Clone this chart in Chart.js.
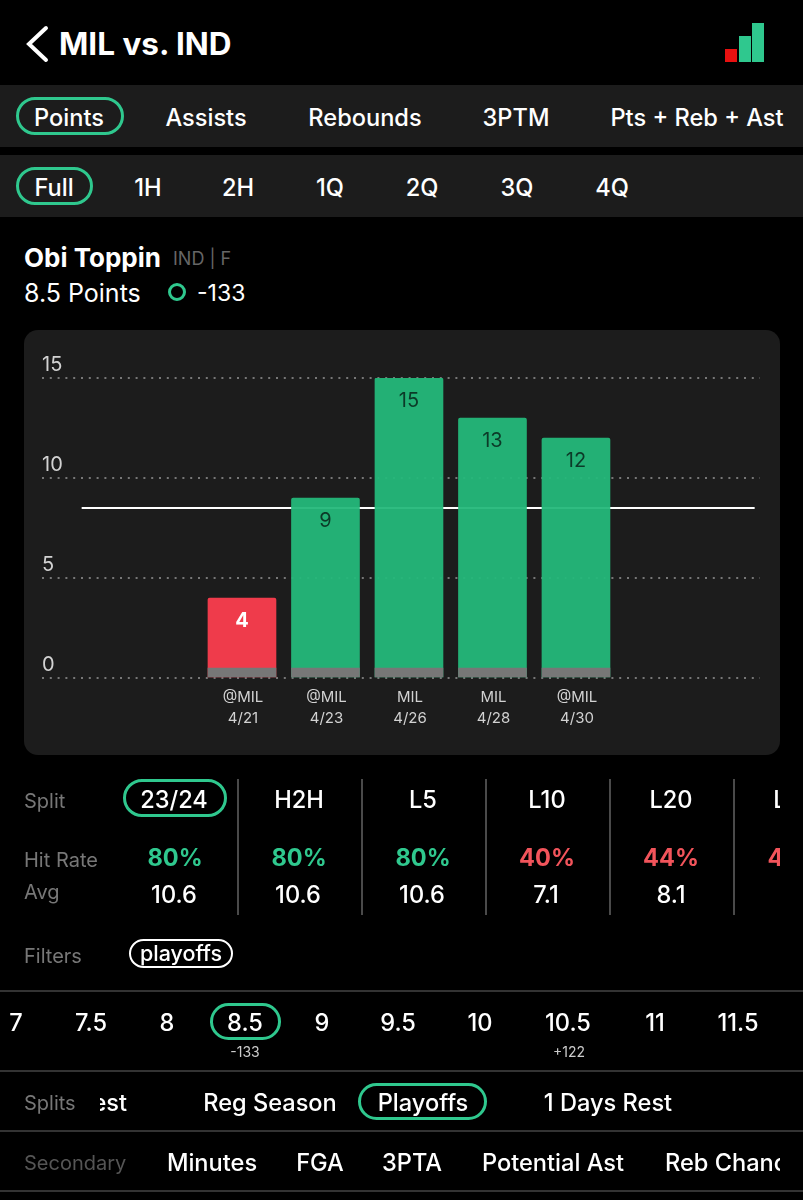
<!DOCTYPE html>
<html>
<head>
<meta charset="utf-8">
<script src="https://cdn.jsdelivr.net/npm/chart.js@4/dist/chart.umd.min.js"></script>
<style>
  html, body { margin: 0; padding: 0; background: #000; }
  body { position: relative; width: 803px; height: 1200px; overflow: hidden; color: #fff; font-family: Inter, "Noto Sans", sans-serif; }
  .t { position: absolute; white-space: nowrap; transform: translateY(calc(-50% + 1px)); line-height: 1; }
  .c { transform: translate(-50%, calc(-50% + 1px)); }
  .band { position: absolute; left: 0; width: 803px; background: #1c1c1c; }
  .pill { position: absolute; box-sizing: border-box; border: 3px solid #2fc88e; border-radius: 20px; }
  .rule { position: absolute; left: 0; width: 803px; height: 2px; background: #333; }
  .div { position: absolute; top: 779px; width: 2px; height: 136px; background: #4a4a4a; }
  .grey { color: #777; font-size: 20px; }
  .m { font-size: 23.6px; font-weight: 500; }
  #card { position: absolute; left: 24px; top: 330px; width: 756px; height: 425px; background: #1c1c1c; border-radius: 14px; }
  #clip { position: absolute; left: 0; top: 0; width: 780px; height: 1200px; overflow: hidden; }
</style>
</head>
<body>
<svg style="position:absolute;left:0;top:0" width="60" height="80">
  <polyline points="46,28 29,44 46,60" fill="none" stroke="#fff" stroke-width="4" stroke-linecap="round"/>
</svg>
<div class="t" style="left:59px;top:43px;font-size:31.5px;font-weight:700">MIL vs. IND</div>
<div style="position:absolute;left:725px;top:49px;width:12px;height:13px;background:#e81010"></div>
<div style="position:absolute;left:739px;top:36px;width:12px;height:26px;background:#2fc88e"></div>
<div style="position:absolute;left:752px;top:23px;width:12px;height:39px;background:#2fc88e"></div>

<div class="band" style="top:85px;height:62px"></div>
<div class="band" style="top:155px;height:62px"></div>
<div class="pill" style="left:16px;top:97px;width:108px;height:38px"></div>
<div class="pill" style="left:16px;top:167px;width:77px;height:38px"></div>
<div class="t c m" style="left:69px;top:117px">Points</div>
<div class="t c m" style="left:206px;top:117px">Assists</div>
<div class="t c m" style="left:365px;top:117px">Rebounds</div>
<div class="t c m" style="left:516px;top:117px">3PTM</div>
<div class="t c m" style="left:697px;top:117px">Pts + Reb + Ast</div>
<div class="t c m" style="left:54px;top:187px">Full</div>
<div class="t c m" style="left:148px;top:187px">1H</div>
<div class="t c m" style="left:238px;top:187px">2H</div>
<div class="t c m" style="left:330px;top:187px">1Q</div>
<div class="t c m" style="left:422px;top:187px">2Q</div>
<div class="t c m" style="left:517px;top:187px">3Q</div>
<div class="t c m" style="left:612px;top:187px">4Q</div>

<div class="t" style="left:24px;top:257px;font-size:26px;font-weight:700">Obi Toppin</div>
<div class="t" style="left:173px;top:258px;font-size:18px;color:#666">IND | F</div>
<div class="t" style="left:24px;top:292px;font-size:25px">8.5 Points</div>
<div style="position:absolute;left:168px;top:283px;width:18px;height:18px;box-sizing:border-box;border:3px solid #2fc88e;border-radius:50%"></div>
<div class="t" style="left:197px;top:292px;font-size:23px">-133</div>

<div id="card"></div>
<canvas id="chart" width="756" height="425" style="position:absolute;left:24px;top:330px"></canvas>

<div id="clip">
  <div class="t grey" style="left:24px;top:800px">Split</div>
  <div class="pill" style="left:123px;top:779px;width:104px;height:38px"></div>
  <div class="t c m" style="left:174px;top:799px">23/24</div>
  <div class="t c m" style="left:299px;top:799px">H2H</div>
  <div class="t c m" style="left:423px;top:799px">L5</div>
  <div class="t c m" style="left:547px;top:799px">L10</div>
  <div class="t c m" style="left:671px;top:799px">L20</div>
  <div class="t c m" style="left:795px;top:799px">L30</div>
  <div class="div" style="left:237px"></div>
  <div class="div" style="left:361px"></div>
  <div class="div" style="left:485px"></div>
  <div class="div" style="left:609px"></div>
  <div class="div" style="left:733px"></div>
  <div class="t grey" style="left:24px;top:859px">Hit Rate</div>
  <div class="t grey" style="left:24px;top:891px">Avg</div>
  <div class="t c m" style="left:175px;top:857px;font-weight:700;color:#2fc88e">80%</div>
  <div class="t c m" style="left:299px;top:857px;font-weight:700;color:#2fc88e">80%</div>
  <div class="t c m" style="left:423px;top:857px;font-weight:700;color:#2fc88e">80%</div>
  <div class="t c m" style="left:547px;top:857px;font-weight:700;color:#f2545b">40%</div>
  <div class="t c m" style="left:671px;top:857px;font-weight:700;color:#f2545b">44%</div>
  <div class="t c m" style="left:795px;top:857px;font-weight:700;color:#f2545b">45%</div>
  <div class="t c m" style="left:174px;top:894px">10.6</div>
  <div class="t c m" style="left:298px;top:894px">10.6</div>
  <div class="t c m" style="left:422px;top:894px">10.6</div>
  <div class="t c m" style="left:546px;top:894px">7.1</div>
  <div class="t c m" style="left:671px;top:894px">8.1</div>
  <div class="t grey" style="left:24px;top:955px">Filters</div>
  <div class="pill" style="left:129px;top:939px;width:104px;height:29px;border-color:#fff;border-width:2px"></div>
  <div class="t c" style="left:181px;top:953px;font-size:21.5px;font-weight:500">playoffs</div>
</div>

<div class="rule" style="top:990px"></div>
<div class="t c m" style="left:16px;top:1022px">7</div>
<div class="t c m" style="left:91px;top:1022px">7.5</div>
<div class="t c m" style="left:167px;top:1022px">8</div>
<div class="pill" style="left:210px;top:1003px;width:71px;height:37px"></div>
<div class="t c m" style="left:245px;top:1022px">8.5</div>
<div class="t c m" style="left:322px;top:1022px">9</div>
<div class="t c m" style="left:398px;top:1022px">9.5</div>
<div class="t c m" style="left:480px;top:1022px">10</div>
<div class="t c m" style="left:568px;top:1022px">10.5</div>
<div class="t c m" style="left:655px;top:1022px">11</div>
<div class="t c m" style="left:738px;top:1022px">11.5</div>
<div class="t c" style="left:245px;top:1051px;font-size:14px;color:#ccc">-133</div>
<div class="t c" style="left:569px;top:1051px;font-size:14px;color:#ccc">+122</div>
<div class="rule" style="top:1070px"></div>

<div class="t grey" style="left:24px;top:1102px">Splits</div>
<div style="position:absolute;left:100px;top:1085px;width:30px;height:34px;overflow:hidden">
  <div class="t m" style="right:3px;top:17px">Rest</div>
</div>
<div class="t c m" style="left:270px;top:1102px">Reg Season</div>
<div class="pill" style="left:358px;top:1083px;width:129px;height:37px"></div>
<div class="t c m" style="left:423px;top:1102px">Playoffs</div>
<div class="t c m" style="left:608px;top:1102px">1 Days Rest</div>
<div class="rule" style="top:1130px"></div>

<div class="t" style="left:24px;top:1162px;font-size:20px;color:#555">Secondary</div>
<div class="t c m" style="left:212px;top:1162px">Minutes</div>
<div class="t c m" style="left:320px;top:1162px">FGA</div>
<div class="t c m" style="left:412px;top:1162px">3PTA</div>
<div class="t c m" style="left:553px;top:1162px">Potential Ast</div>
<div style="position:absolute;left:660px;top:1145px;width:120px;height:34px;overflow:hidden">
  <div class="t m" style="left:5px;top:17px">Reb Chances</div>
</div>
<div class="rule" style="top:1190px"></div>

<script>
const opponents = ["@MIL", "@MIL", "MIL", "MIL", "@MIL"];
const dates = ["4/21", "4/23", "4/26", "4/28", "4/30"];
const points = [4, 9, 15, 13, 12];
const minutesBase = [0.5, 0.5, 0.5, 0.5, 0.5];
const yTicks = [0, 5, 10, 15];
const propLine = 8.5;
// game slots are numbered from the first bar, the line runs a bit past both sides
const lineSlots = [-1.92, 6.14];
const xRange = [-2.395, 6.204];

const green = "rgba(36, 184, 122, 0.95)";
const red = "rgba(244, 60, 76, 0.98)";

const barLabels = {
  id: "barLabels",
  afterDatasetsDraw(chart) {
    const ctx = chart.ctx;
    chart.getDatasetMeta(1).data.forEach((bar, i) => {
      const miss = points[i] < propLine;
      ctx.save();
      ctx.font = (miss ? "700 " : "400 ") + "20px Inter";
      ctx.fillStyle = miss ? "#fff" : "#0c3a28";
      ctx.textAlign = "center";
      ctx.textBaseline = "middle";
      ctx.fillText(points[i], bar.x, bar.y + 23);
      ctx.restore();
    });
  },
};

new Chart(document.getElementById("chart"), {
  data: {
    datasets: [
      {
        type: "bar",
        data: minutesBase.map((v, i) => ({ x: i, y: v })),
        backgroundColor: "#777",
        barThickness: 68,
        grouped: false,
        order: 1,
      },
      {
        type: "bar",
        data: points.map((v, i) => ({ x: i, y: v })),
        backgroundColor: points.map((v) => (v < propLine ? red : green)),
        barThickness: 68,
        grouped: false,
        borderRadius: { topLeft: 2, topRight: 2 },
        borderSkipped: "bottom",
        order: 2,
      },
      {
        type: "line",
        data: lineSlots.map((x) => ({ x: x, y: propLine })),
        borderColor: "#fff",
        borderWidth: 2,
        pointRadius: 0,
        order: 3,
      },
    ],
  },
  options: {
    responsive: false,
    animation: false,
    events: [],
    layout: { padding: { left: 18, right: 20, top: 48, bottom: 0 } },
    plugins: { legend: { display: false }, tooltip: { enabled: false } },
    scales: {
      x: {
        type: "linear",
        offset: false,
        min: xRange[0],
        max: xRange[1],
        grid: { display: false },
        border: { display: false },
        afterBuildTicks(scale) {
          scale.ticks = points.map((v, i) => ({ value: i }));
        },
        afterFit(scale) {
          scale.height = 77;
        },
        ticks: {
          autoSkip: false,
          maxRotation: 0,
          padding: 1,
          labelOffset: 1,
          color: "#d2d2d2",
          font: { family: "Inter", size: 15, lineHeight: 1.4 },
          callback: (v) => [opponents[v], dates[v]],
        },
      },
      y: {
        min: 0,
        max: 15,
        grid: {
          color: "#777",
          lineWidth: 2,
          drawTicks: false,
        },
        border: { display: false, dash: [2, 5.8] },
        afterBuildTicks(scale) {
          scale.ticks = yTicks.map((v) => ({ value: v }));
        },
        ticks: {
          mirror: true,
          padding: 0,
          labelOffset: -13,
          color: "#d2d2d2",
          font: { family: "Inter", size: 20 },
        },
      },
    },
  },
  plugins: [barLabels],
});
</script>
</body>
</html>
